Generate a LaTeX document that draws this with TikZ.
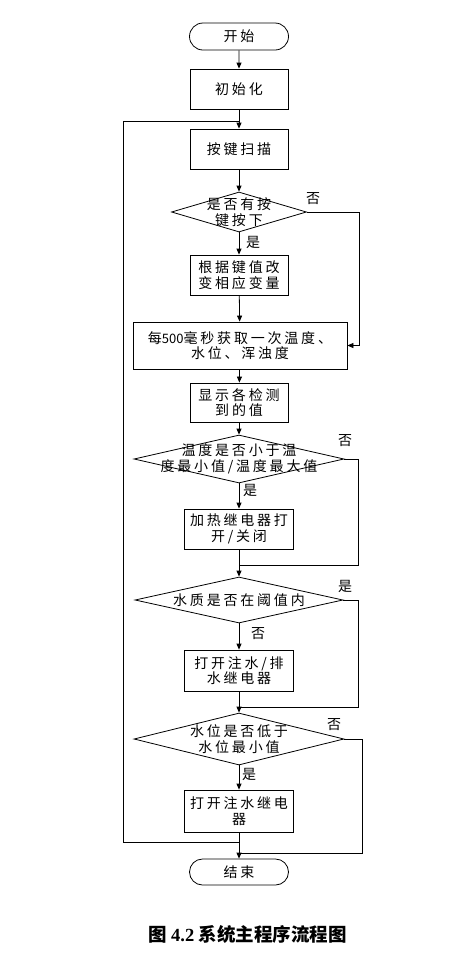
\documentclass[tikz,border=0pt]{standalone}
\usepackage{fontspec}
\usepackage{tikz}
\usetikzlibrary{shapes.geometric,shapes.misc,arrows.meta}
\newfontfamily\cjk[LetterSpace=20]{Noto Sans CJK SC}
\newfontfamily\cjknum{Noto Sans CJK SC}
\newfontfamily\capcjk{Noto Sans CJK SC}
\newfontfamily\capnum{Liberation Serif}

\begin{document}
\begin{tikzpicture}[x=1pt, y=-1pt, line width=0.8pt,
		txt/.style={font=\cjk\fontsize{14}{15.5}\selectfont, align=center},
		box/.style={draw, txt, minimum width=98pt, minimum height=40pt, inner sep=0pt},
		term/.style={draw, txt, rounded rectangle, minimum width=99pt, minimum height=27pt, inner sep=0pt},
		decide/.style={draw, diamond, inner sep=0pt},
		lbl/.style={font=\cjk\fontsize{14}{15}\selectfont, inner sep=1pt},
		flow/.style={-{Triangle[length=6pt,width=5pt]}}]
				\useasboundingbox (0,0) rectangle (452,959);
				
				% blocks
				\node[term] (start) at (239,36.5) {开始};
				\node[box] (init) at (239,89) {初始化};
				\node[box] (scan) at (239,149) {按键扫描};
				\node[decide, minimum width=135pt, minimum height=40pt] (d1) at (239,212) {};
				\node[txt] (d1t) at (d1) {是否有按\\键按下};
				\node[box] (chg) at (239,275) {根据键值改\\变相应变量};
				\node[box, minimum width=214pt, minimum height=47pt] (sample) at (240,345.5) {每{\cjknum\fontsize{13}{15}\selectfont 500}毫秒获取一次温度、\\水位、浑浊度};
				\node[box, minimum height=39pt] (show) at (239,402.5) {显示各检测\\到的值};
				\node[decide, minimum width=210pt, minimum height=48pt] (d2) at (239,459) {};
				\node[txt] (d2t) at (d2) {温度是否小于温\\度最小值/温度最大值};
				\node[box, minimum width=109pt] (heat) at (239,529) {加热继电器打\\开/关闭};
				\node[decide, minimum width=208pt, minimum height=46pt] (d3) at (239,600) {};
				\node[txt] (d3t) at (d3) {水质是否在阈值内};
				\node[box, minimum width=109pt, minimum height=41pt] (pump) at (239,670.5) {打开注水/排\\水继电器};
				\node[decide, minimum width=210pt, minimum height=52pt] (d4) at (239,739) {};
				\node[txt] (d4t) at (d4) {水位是否低于\\水位最小值};
				\node[box, minimum width=109pt, minimum height=42pt] (fill) at (239,811) {打开注水继电\\器};
				\node[term, minimum height=26pt] (stop) at (239,872) {结束};
				
				% join points
				\coordinate (loopin) at (239,121);
				\coordinate (loopout) at (239,842);
				\coordinate (loopcorner) at (123,121);
				\coordinate (j2) at (239,565);
				\coordinate (j3) at (239,707);
				\coordinate (j4) at (239,853);
				
				% main line
				\draw[flow] (start) -- (init);
				\draw[flow] (init) -- (scan);
				\draw[flow] (scan) -- (d1);
				\draw[flow] (d1) -- (chg);
				\draw[flow] (chg) -- (sample);
				\draw[flow] (sample) -- (show);
				\draw[flow] (show) -- (d2);
				\draw[flow] (d2) -- (heat);
				\draw[flow] (heat) -- (d3);
				\draw[flow] (d3) -- (pump);
				\draw[flow] (pump) -- (d4);
				\draw[flow] (d4) -- (fill);
				\draw[flow] (fill) -- (stop);
				
				% side lines
				\draw[flow] (d1.east) -- ++(52,0) |- (sample.east);
				\draw (d2.east) -| (358,565) -- (j2);
				\draw (d3.east) -| (358,707) -- (j3);
				\draw (d4.east) -| (362,853) -- (j4);
				\draw (loopout) -| (loopcorner) -- (loopin);
				
				% yes/no
				\node[lbl] (n1) at (313,199) {否};
				\node[lbl] (y1) at (253,242) {是};
				\node[lbl] (n2) at (345,441) {否};
				\node[lbl] (y2) at (250,490) {是};
				\node[lbl] (y3) at (345,586) {是};
				\node[lbl] (n3) at (258,634) {否};
				\node[lbl] (n4) at (334,725) {否};
				\node[lbl] (y4) at (249,774) {是};
				
				% caption
				\node[font=\capcjk\bfseries\fontsize{18.5}{20}\selectfont] (cap) at (247.5,934) {图 {\capnum\bfseries 4.2} 系统主程序流程图};
\end{tikzpicture}
\end{document}
